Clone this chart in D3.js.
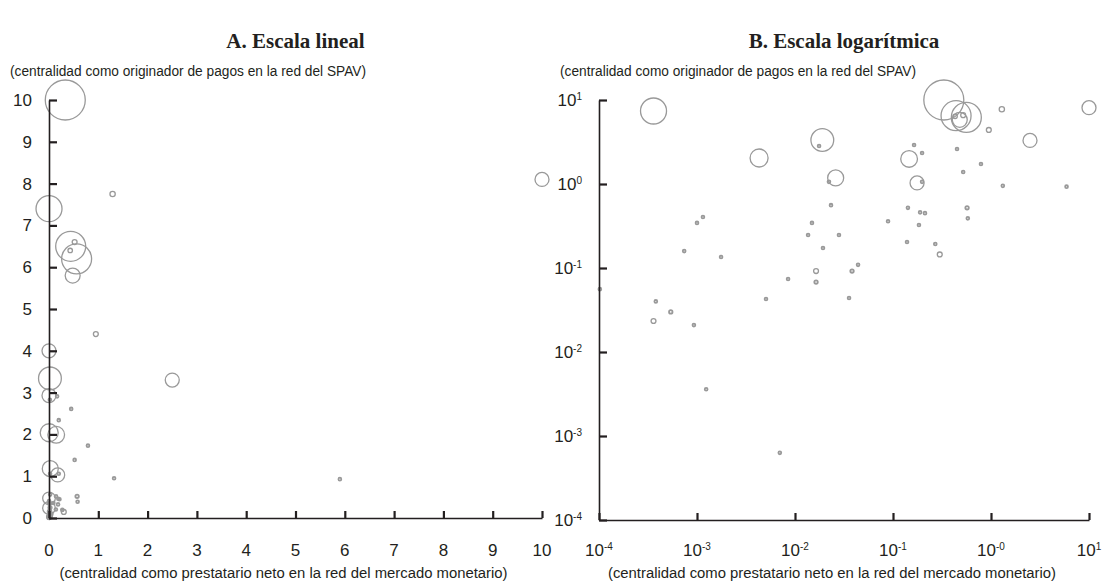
<!DOCTYPE html>
<html>
<head>
<meta charset="utf-8">
<script src="https://cdn.jsdelivr.net/npm/d3@7"></script>
<style>
  body { margin: 0; background: #fff; }
  svg { display: block; }
  .tl { font-family: "Liberation Sans Narrow", "Arial Narrow", "Liberation Sans", sans-serif; font-size: 17px; fill: #231f20; }
  .te { font-family: "Liberation Sans Narrow", "Arial Narrow", "Liberation Sans", sans-serif; font-size: 15.5px; fill: #231f20; }
  .titulo { font-family: "Liberation Serif", "Times New Roman", serif; font-weight: bold; font-size: 21px; fill: #231f20; }
</style>
</head>
<body>
<div id="graf"></div>
<script>
// Datos: centralidad como prestatario neto (x), como originador de pagos (y), tamaño del banco (peso)
const xVals = [
  0.00036, 0.0043, 0.019, 0.026, 0.146, 0.176, 0.33, 0.44, 0.56, 0.48,
  0.43, 0.52, 1.29, 10, 0.95, 2.5, 0.30, 0, 0, 0,
  0, 0.00036, 0.0164,
  0.0176, 0.0222, 0.164, 0.198, 0.198, 0.45, 0.79, 0.52, 1.32, 5.9,
  0.57, 0.58, 0.27, 0.0233, 0.142, 0.189, 0.212, 0.184, 0.089, 0.139,
  0.0149, 0.0136, 0.0281, 0.0193, 0.00115, 0.001, 0.00074, 0.00176, 0.000102,
  0.00038, 0.00054, 0.00093, 0.00506, 0.0085, 0.0164, 0.0382, 0.044, 0.0356,
  0.00124, 0.007
]
const yVals = [
  7.4, 2.04, 3.34, 1.18, 1.99, 1.03, 10, 6.5, 6.2, 5.8,
  6.4, 6.6, 7.75, 8.1, 4.4, 3.3, 0.145, 4.0, 2.93, 0.47,
  0.24, 0.0234, 0.092,
  2.83, 1.06, 2.91, 2.34, 1.06, 2.61, 1.73, 1.39, 0.95, 0.93,
  0.52, 0.39, 0.193, 0.56, 0.52, 0.46, 0.45, 0.325, 0.36, 0.204,
  0.344, 0.247, 0.247, 0.173, 0.405, 0.344, 0.159, 0.135, 0.056,
  0.040, 0.030, 0.0209, 0.0428, 0.074, 0.068, 0.092, 0.109, 0.044,
  0.0036, 0.00063
]
const pesos = [
  169, 81, 130, 64, 70, 49, 400, 225, 225, 56,
  5, 6, 7, 49, 6, 49, 6, 49, 49, 40,
  40, 6, 6,
  2, 2, 2, 2, 2, 2, 2, 2, 2, 2,
  3, 2, 2, 2, 2, 2, 2, 2, 2, 2,
  2, 2, 2, 2, 2, 2, 2, 2, 2,
  2, 3, 2, 2, 2, 3, 3, 2, 2,
  2, 2
]

const ticksLineal = [0, 1, 2, 3, 4, 5, 6, 7, 8, 9, 10]
const ticksLog = [-4, -3, -2, -1, 0, 1]          // exponentes
const etiquetasXLog = ["-4", "-3", "-2", "-1", "-0", "1"]
const etiquetasYLog = ["-4", "-3", "-2", "-1", "0", "1"]

const titulos = ["A. Escala lineal", "B. Escala logarítmica"]
const tituloY = "(centralidad como originador de pagos en la red del SPAV)"
const tituloX = "(centralidad como prestatario neto en la red del mercado monetario)"

const datos = xVals.map((x, i) => ({ x: x, y: yVals[i], p: pesos[i] }))
datos.sort((a, b) => b.p - a.p)

const ancho = 1102
const alto = 588

const svg = d3.select("#graf")
  .append("svg")
  .attr("width", ancho)
  .attr("height", alto)

const radio = d3.scaleSqrt().domain([0, 400]).range([0, 20])

// Escalas
const xLin = d3.scaleLinear().domain([0, 10]).range([49, 542])
const yLin = d3.scaleLinear().domain([0, 10]).range([518, 100])
const xLog = d3.scaleLog().domain([1e-4, 10]).range([599, 1089])
const yLog = d3.scaleLog().domain([1e-4, 10]).range([520, 100])

const dibujaPanel = (x, y, tvals, fmtX, fmtY, filtro, titulo) => {
  const g = svg.append("g")
  const [x0, x1] = x.range()
  const [y0, y1] = y.range()

  // Titulo del panel
  g.append("text")
    .attr("class", "titulo")
    .attr("x", (x0 + x1) / 2)
    .attr("y", 48)
    .attr("text-anchor", "middle")
    .text(titulo)

  // titulos de ejes, la fuente original es condensada
  g.append("text")
    .attr("class", "te")
    .attr("x", x0 - 39)
    .attr("y", 76)
    .attr("textLength", 356)
    .attr("lengthAdjust", "spacingAndGlyphs")
    .text(tituloY)

  g.append("text")
    .attr("class", "te")
    .attr("x", (x0 + x1) / 2 - 12)
    .attr("y", 578)
    .attr("text-anchor", "middle")
    .attr("textLength", 448)
    .attr("lengthAdjust", "spacingAndGlyphs")
    .text(tituloX)

  // Burbujas
  g.append("g")
    .selectAll("circle")
    .data(datos.filter(filtro))
    .join("circle")
    .attr("cx", d => x(d.x))
    .attr("cy", d => y(d.y))
    .attr("r", d => radio(d.p))
    .attr("fill", "none")
    .attr("stroke", "#999")
    .attr("stroke-width", d => d.p <= 3 ? 1.8 : 1.3)

  // Ejes
  const ejeX = d3.axisBottom(x).tickValues(tvals).tickSize(-7).tickSizeOuter(0).tickFormat("")
  const ejeY = d3.axisLeft(y).tickValues(tvals).tickSize(-8).tickSizeOuter(0).tickFormat("")

  g.append("g").attr("transform", `translate(0,${y0})`).call(ejeX)
  g.append("g").attr("transform", `translate(${x0},0)`).call(ejeY)
  g.selectAll(".domain").attr("stroke", "#231f20").attr("stroke-width", 1.6)
  g.selectAll(".tick line").attr("stroke", "#231f20").attr("stroke-width", 2.2)

  // Etiquetas
  const lx = g.append("g").selectAll("text")
    .data(tvals)
    .join("text")
    .attr("class", "tl")
    .attr("x", d => x(d))
    .attr("y", 556)
    .attr("text-anchor", "middle")
  fmtX(lx)

  const ly = g.append("g").selectAll("text")
    .data(tvals)
    .join("text")
    .attr("class", "tl")
    .attr("x", x0 - 17)
    .attr("y", d => y(d) + 6)
    .attr("text-anchor", "end")
  fmtY(ly)
}

const fmtLineal = sel => sel.text(d => d)

const fmtPotencia = etiquetas => sel => {
  sel.each(function (d, i) {
    const t = d3.select(this)
    t.append("tspan").text("10")
    t.append("tspan")
      .attr("dy", -6)
      .style("font-size", "10px")
      .text(etiquetas[i])
  })
}

dibujaPanel(xLin, yLin, ticksLineal, fmtLineal, fmtLineal,
  d => d.x <= 10, titulos[0])

dibujaPanel(xLog, yLog, ticksLog.map(e => Math.pow(10, e)),
  fmtPotencia(etiquetasXLog), fmtPotencia(etiquetasYLog),
  d => d.x > 0 && d.y > 0, titulos[1])
</script>
</body>
</html>
